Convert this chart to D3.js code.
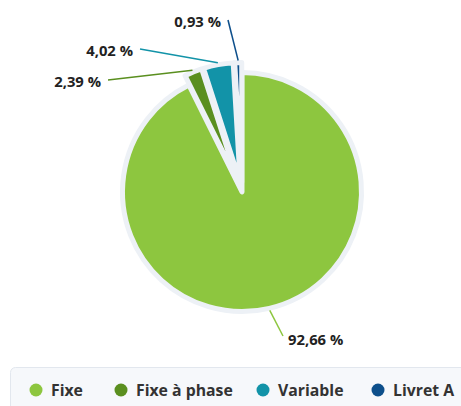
<!DOCTYPE html>
<html><head><meta charset="utf-8">
<script src="https://cdn.jsdelivr.net/npm/d3@7"></script>
<style>html,body{margin:0;padding:0;background:#fff;overflow:hidden}</style>
</head><body>
<svg id="c" width="461" height="406"></svg>
<script>
const categories = ["Fixe", "Fixe à phase", "Variable", "Livret A"];
const values = [92.66, 2.39, 4.02, 0.93];
const labels = ["92,66 %", "2,39 %", "4,02 %", "0,93 %"];
const colors = ["#8dc63f", "#5a8f1f", "#1293a8", "#0d4f8b"];
const sliced = [false, true, true, true];

const svg = d3.select("#c");
const cx = 242, cy = 192, r = 119.5, offset = 10;
const font = "'Open Sans', 'Noto Sans', sans-serif";

const pie = d3.pie().sort(null).value(d => d)(values);
const arc = d3.arc().innerRadius(0).outerRadius(r);

const g = svg.append("g").attr("transform", `translate(${cx},${cy})`);

function dir(d) { const a = (d.startAngle + d.endAngle) / 2; return [Math.sin(a), -Math.cos(a)]; }

g.selectAll("path.s").data(pie).enter().append("path")
  .attr("class", "s")
  .attr("d", arc)
  .attr("fill", (d, i) => colors[i])
  .attr("stroke", "#edf1f6")
  .attr("stroke-width", 5)
  .attr("stroke-linejoin", "round")
  .attr("transform", (d, i) => {
    if (!sliced[i]) return null;
    const [dx, dy] = dir(d);
    return `translate(${dx * offset},${dy * offset})`;
  });

// label layout (relative to chart) : end point of connector and text anchor
const labelLayout = [
  {end: [283, 336], tx: 288, ty: 345, anchor: "start"},
  {end: [108, 80], tx: 101, ty: 87, anchor: "end"},
  {end: [140, 49], tx: 133, ty: 56, anchor: "end"},
  {end: [228, 20], tx: 221, ty: 27, anchor: "end"}
];

pie.forEach((d, i) => {
  const [dx, dy] = dir(d);
  const off = sliced[i] ? offset : 0;
  const rr = r + off + 2;
  const sx = cx + dx * rr, sy = cy + dy * rr;
  const L = labelLayout[i];
  svg.append("line")
    .attr("x1", sx).attr("y1", sy).attr("x2", L.end[0]).attr("y2", L.end[1])
    .attr("stroke", colors[i]).attr("stroke-width", 1.5);
  svg.append("text")
    .attr("x", L.tx).attr("y", L.ty)
    .attr("text-anchor", L.anchor)
    .attr("font-family", font).attr("font-weight", "bold").attr("font-size", 14.8)
    .attr("fill", "#222")
    .text(labels[i]);
});

// legend
svg.append("rect").attr("x", 10.5).attr("y", 367.5).attr("width", 470).attr("height", 60)
  .attr("rx", 5).attr("fill", "#f6f8fb").attr("stroke", "#e2e7ee");
const legendX = [36, 121, 263, 378];
categories.forEach((c, i) => {
  svg.append("circle").attr("cx", legendX[i]).attr("cy", 390).attr("r", 6.5).attr("fill", colors[i]);
  svg.append("text").attr("x", legendX[i] + 15).attr("y", 396)
    .attr("font-family", font).attr("font-weight", "bold").attr("font-size", 15.8)
    .attr("fill", "#333").text(c);
});
</script>
</body></html>
